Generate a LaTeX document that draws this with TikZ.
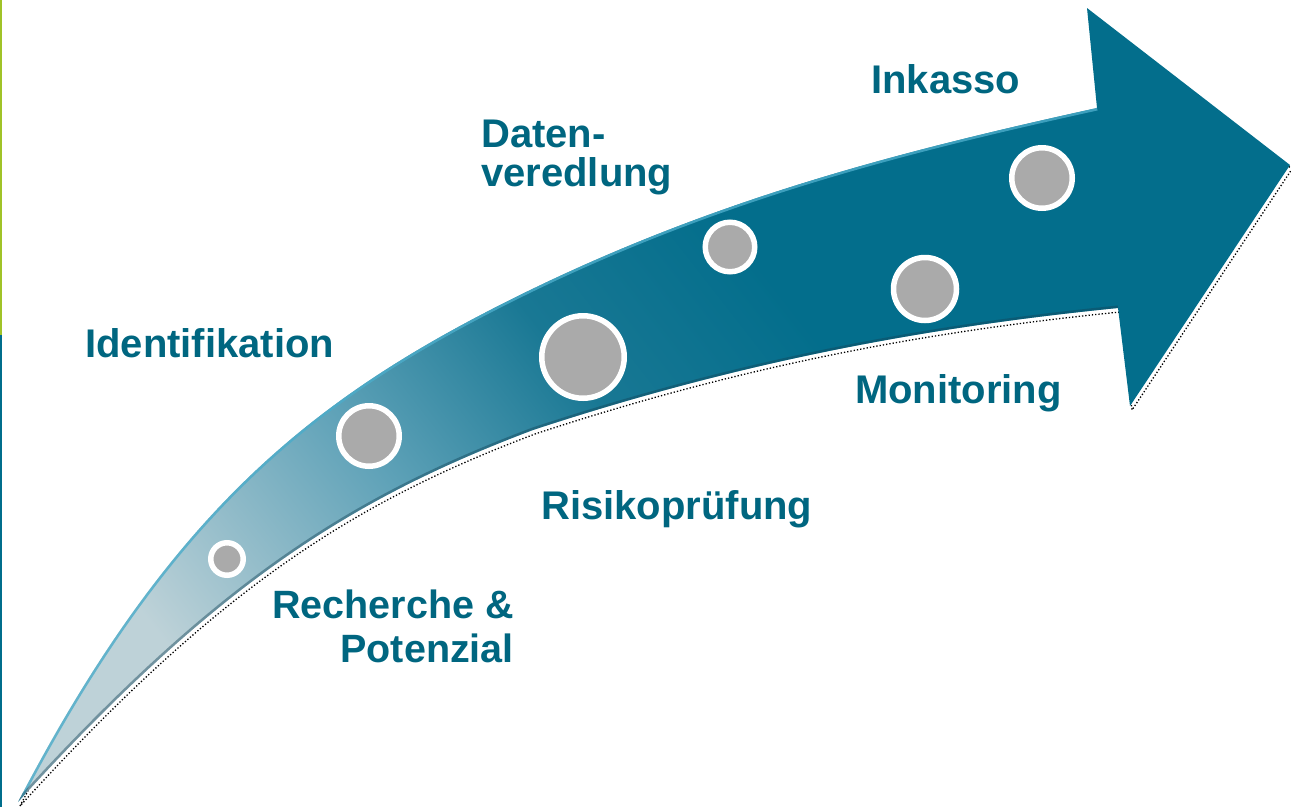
\documentclass[tikz,border=0pt]{standalone}
\usepackage{fontspec}
\setmainfont{Liberation Sans}
\definecolor{txt}{RGB}{0,102,128}
\definecolor{dotgray}{RGB}{170,170,170}
\definecolor{c0}{RGB}{190,210,216}
\definecolor{c1}{RGB}{95,162,184}
\definecolor{c2}{RGB}{25,120,148}
\definecolor{c3}{RGB}{3,110,140}
\definecolor{hl}{RGB}{75,172,202}
\definecolor{shadowc}{RGB}{20,70,90}
\definecolor{edgegreen}{RGB}{160,195,40}
\definecolor{edgeteal}{RGB}{0,110,140}
\pgfdeclarehorizontalshading{arrowgrad}{100bp}{color(0bp)=(c0); color(25bp)=(c0); color(38bp)=(c1); color(48bp)=(c2); color(58bp)=(c3); color(100bp)=(c3)}
\newcommand\arrowshape[1]{\path[#1] (18,802) .. controls (168,514) and (310,400) .. (510,300) .. controls (710,200) and (897,152) .. (1097,108) -- (1087,8) -- (1290,165) -- (1130,406) -- (1118,308) .. controls (918,328) and (733,364) .. (533,430) .. controls (353,498) and (218,582) .. (18,802) -- cycle;}
\newcommand\topedge[1]{\path[#1] (18,802) .. controls (168,514) and (310,400) .. (510,300) .. controls (710,200) and (897,152) .. (1097,108);}
\newcommand\bottomedge[1]{\path[#1] (1118,308) .. controls (918,328) and (733,364) .. (533,430) .. controls (353,498) and (218,582) .. (18,802);}
\tikzset{
  lbl/.style={text=txt, inner sep=0pt, font=\fontsize{40}{44}\selectfont\bfseries},
  dot/.style={circle, fill=dotgray, draw=white, line width=5.5pt, inner sep=0pt}
}
\begin{document}
\begin{tikzpicture}[x=1pt,y=-1pt]
\useasboundingbox (0,0) rectangle (1291,807);
% left border lines
\draw[edgegreen, line width=2pt] (1,0) -- (1,335);
\draw[edgeteal, line width=2pt] (1,335) -- (1,807);
% speckled shadow
\begin{scope}[shift={(2,4)}]
\arrowshape{draw=black, dotted, line width=1.3pt}
\end{scope}
% arrow body
\arrowshape{shading=arrowgrad, shading angle=38}
\begin{scope}
\arrowshape{clip}
\topedge{draw=hl, line width=5pt, opacity=0.8}
\bottomedge{draw=shadowc, line width=5pt, opacity=0.45}
\end{scope}
% circles
\node[dot, minimum size=32.5pt] (c1) at (227,559) {};
\node[dot, minimum size=60.5pt] (c2) at (369,436) {};
\node[dot, minimum size=82.5pt] (c3) at (583,357) {};
\node[dot, minimum size=49.5pt] (c4) at (730,247) {};
\node[dot, minimum size=63pt] (c5) at (925,289) {};
\node[dot, minimum size=60.5pt] (c6) at (1042,178) {};
% labels
\node[lbl, anchor=base west] (ident) at (85,357) {Identifikation};
\node[lbl, anchor=base east, align=right, font=\fontsize{39.5}{44}\selectfont\bfseries] (rech) at (514,662) {Recherche \&\\Potenzial};
\node[lbl, anchor=base west, align=left, font=\fontsize{40}{39}\selectfont\bfseries] (daten) at (481,186) {Daten-\\veredlung};
\node[lbl, anchor=base west] (risk) at (541,519) {Risikoprüfung};
\node[lbl, anchor=base west] (inkasso) at (871,93) {Inkasso};
\node[lbl, anchor=base west] (monitor) at (855,403) {Monitoring};
\end{tikzpicture}
\end{document}
